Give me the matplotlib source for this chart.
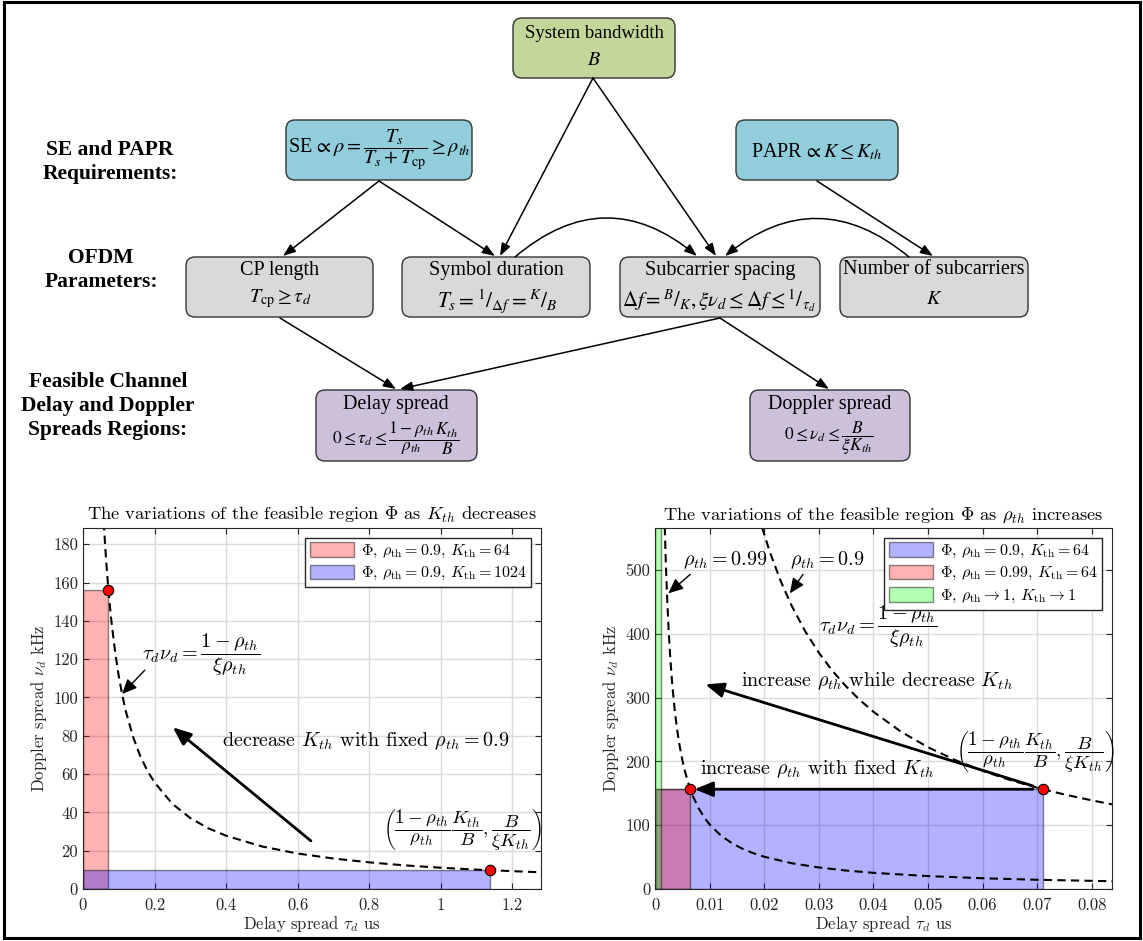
import matplotlib
matplotlib.use('Agg')
import matplotlib.pyplot as plt
from matplotlib.patches import FancyBboxPatch, Rectangle, FancyArrowPatch
from matplotlib.ticker import FuncFormatter

plt.rcParams['font.family'] = 'cmr10'
plt.rcParams['mathtext.fontset'] = 'cm'
plt.rcParams['axes.formatter.use_mathtext'] = True
plt.rcParams['axes.unicode_minus'] = False

# ---------------- data ----------------
# left panel: rho_th = 0.9, K_th = 64 and 1024
tau_k64, nu_k64 = 0.0711, 156.25
tau_k1024, nu_k1024 = 1.1378, 9.77
curve_tau_l = [0.058, 0.062, 0.066, 0.07, 0.075, 0.08, 0.09, 0.1, 0.11, 0.12, 0.14,
               0.16, 0.18, 0.2, 0.25, 0.3, 0.35, 0.4, 0.5, 0.6, 0.7, 0.8, 0.9,
               1.0, 1.1, 1.2, 1.28]
curve_nu_l = [191.6, 179.2, 168.3, 158.7, 148.1, 138.9, 123.5, 111.1, 101.0, 92.6, 79.4,
              69.4, 61.7, 55.6, 44.4, 37.0, 31.7, 27.8, 22.2, 18.5, 15.9, 13.9, 12.3,
              11.1, 10.1, 9.3, 8.7]

# right panel: K_th = 64 with rho_th = 0.9 / 0.99, and the limit case
tau_r09, nu_r09 = 0.0711, 156.25
tau_r099, nu_r099 = 0.00646, 156.25
tau_r1, nu_r1 = 0.0011, 10000
curve_tau_09 = [0.0196, 0.021, 0.023, 0.025, 0.0275, 0.03, 0.0325, 0.035, 0.0375, 0.04,
                0.045, 0.05, 0.055, 0.06, 0.065, 0.07, 0.075, 0.08, 0.0837]
curve_nu_09 = [566.8, 529.0, 483.0, 444.4, 404.0, 370.4, 341.9, 317.5, 296.3, 277.8,
               246.9, 222.2, 202.0, 185.2, 170.9, 158.7, 148.1, 138.9, 132.7]
curve_tau_099 = [0.00178, 0.0019, 0.002, 0.0022, 0.0025, 0.0028, 0.0032, 0.0036, 0.004,
                 0.0045, 0.005, 0.0055, 0.006, 0.0065, 0.007, 0.008, 0.009, 0.01, 0.012,
                 0.014, 0.016, 0.018, 0.02, 0.025, 0.03, 0.035, 0.04, 0.05, 0.06, 0.07, 0.0837]
curve_nu_099 = [567.5, 531.6, 505.0, 459.0, 404.0, 360.8, 315.7, 280.6, 252.5,
                224.5, 202.0, 183.7, 168.4, 155.4, 144.3, 126.3, 112.2, 101.0, 84.2,
                72.2, 63.1, 56.1, 50.5, 40.4, 33.7, 28.9, 25.3, 20.2, 16.8, 14.4, 12.1]

xticks_l = [0, 0.2, 0.4, 0.6, 0.8, 1, 1.2]
yticks_l = [0, 20, 40, 60, 80, 100, 120, 140, 160, 180]
xticks_r = [0, 0.01, 0.02, 0.03, 0.04, 0.05, 0.06, 0.07, 0.08]
yticks_r = [0, 100, 200, 300, 400, 500]

RED = (1, 0, 0, 0.3)
BLUE = (0, 0, 1, 0.3)
GREEN = (0, 1, 0, 0.3)
EDGE = (0, 0, 0, 0.45)

fig = plt.figure(figsize=(11.43, 9.41), dpi=100)

# ---------------- flow chart (pixel coordinates) ----------------
bg = fig.add_axes([0, 0, 1, 1])
bg.set_xlim(0, 1143)
bg.set_ylim(941, 0)
bg.set_axis_off()
bg.add_patch(Rectangle((4, 2), 1136, 936, fill=False, lw=2.2, ec='black'))

FC = dict(family='Liberation Serif', math_fontfamily='stix', ha='center', va='center')

boxes = [
    (513, 18, 162, 60, '#c4d79b'),   # system bandwidth
    (286, 120, 186, 60, '#92cddc'),  # SE
    (736, 120, 162, 60, '#92cddc'),  # PAPR
    (186, 257, 187, 60, '#d9d9d9'),  # CP length
    (402, 257, 188, 60, '#d9d9d9'),  # symbol duration
    (620, 257, 200, 60, '#d9d9d9'),  # subcarrier spacing
    (840, 257, 188, 60, '#d9d9d9'),  # number of subcarriers
    (316, 390, 161, 71, '#ccc0da'),  # delay spread
    (750, 390, 160, 71, '#ccc0da'),  # doppler spread
]
for x, y, w, h, c in boxes:
    bg.add_patch(FancyBboxPatch((x, y), w, h, boxstyle='round,pad=0,rounding_size=9',
                                fc=c, ec='#333333', lw=1, zorder=2))

fs = 14.5
bg.text(594, 33, 'System bandwidth', fontsize=13.5, **FC)
bg.text(594, 60, r'$B$', fontsize=fs, **FC)
bg.text(379, 150, r'SE$\,\propto\rho=\dfrac{T_s}{T_s+T_{\rm cp}}\geq\rho_{th}$', fontsize=fs, **FC)
bg.text(817, 152, r'PAPR$\,\propto K\leq K_{th}$', fontsize=fs, **FC)
bg.text(280, 270, 'CP length', fontsize=fs, **FC)
bg.text(280, 299, r'$T_{\rm cp}\geq\tau_d$', fontsize=fs, **FC)
bg.text(496, 270, 'Symbol duration', fontsize=fs, **FC)
bg.text(497, 301, r'$T_s={}^{1}/_{\Delta f}={}^{K}/_{B}$', fontsize=15.5, **FC)
bg.text(720, 270, 'Subcarrier spacing', fontsize=fs, **FC)
bg.text(719, 301, r'$\Delta f={}^{B}/_{K},\xi\nu_d\leq\Delta f\leq{}^{1}/_{\tau_d}$',
        fontsize=15, **FC)
bg.text(934, 270, 'Number of subcarriers', fontsize=fs, **FC)
bg.text(934, 299, r'$K$', fontsize=fs, **FC)
bg.text(396, 405, 'Delay spread', fontsize=fs, **FC)
bg.text(396, 438, r'$0\leq\tau_d\leq\dfrac{1-\rho_{th}}{\rho_{th}}\dfrac{K_{th}}{B}$', fontsize=12.5, **FC)
bg.text(830, 405, 'Doppler spread', fontsize=fs, **FC)
bg.text(829, 438, r'$0\leq\nu_d\leq\dfrac{B}{\xi K_{th}}$', fontsize=12.5, **FC)

LB = dict(family='Liberation Serif', weight='bold', ha='center', va='center',
          fontsize=15.5, linespacing=1.25)
bg.text(110, 162, 'SE and PAPR\nRequirements:', **LB)
bg.text(101, 270, 'OFDM\nParameters:', **LB)
bg.text(108, 406, 'Feasible Channel\nDelay and Doppler\nSpreads Regions:', **LB)


def flow_arrow(p0, p1, rad=0.0):
    bg.add_patch(FancyArrowPatch(p0, p1, arrowstyle='-|>,head_length=0.75,head_width=0.28',
                                 mutation_scale=10, connectionstyle=f'arc3,rad={rad}',
                                 lw=1.1, color='black', shrinkA=0, shrinkB=0, zorder=3))


flow_arrow((593, 78), (500, 256))
flow_arrow((593, 78), (716, 256))
flow_arrow((379, 181), (283, 256))
flow_arrow((379, 181), (495, 256))
flow_arrow((817, 181), (933, 256))
flow_arrow((515, 257), (697, 256), rad=-0.42)
flow_arrow((909, 257), (725, 256), rad=0.41)
flow_arrow((280, 318), (396, 389))
flow_arrow((720, 318), (400, 389))
flow_arrow((720, 318), (829, 389))


# ---------------- plots ----------------
def style_axes(ax, xt, yt, xlim, ylim):
    ax.set_xlim(*xlim)
    ax.set_ylim(*ylim)
    ax.set_xticks(xt)
    ax.set_yticks(yt)
    fmt = FuncFormatter(lambda v, p: f'{v:g}')
    ax.xaxis.set_major_formatter(fmt)
    ax.yaxis.set_major_formatter(fmt)
    ax.set_axisbelow(True)
    ax.grid(True, color='0.86', lw=1)
    ax.tick_params(direction='in', top=True, right=True, length=4, width=0.8,
                   labelsize=12, colors='0.15')
    ax.tick_params(axis='x', pad=6)
    for s in ax.spines.values():
        s.set_color('0.15')
        s.set_linewidth(0.8)
    ax.set_xlabel(r'Delay spread $\tau_d$ us', fontsize=12, color='0.15', labelpad=1)
    ax.set_ylabel(r'Doppler spread $\nu_d$ kHz', fontsize=12, color='0.15', labelpad=3)


def big_arrow(ax, xy, xytext, lw=2.0, hl=1.1, hw=0.45):
    ax.annotate('', xy=xy, xytext=xytext,
                arrowprops=dict(arrowstyle=f'-|>,head_length={hl},head_width={hw}',
                                lw=lw, color='black', mutation_scale=10,
                                shrinkA=0, shrinkB=0))


LEG = dict(loc='upper right', fontsize=11.5, fancybox=False, edgecolor='0.15',
           framealpha=1, handlelength=2.8, handleheight=1.0, borderaxespad=0.6,
           borderpad=0.3, labelspacing=0.3, handletextpad=0.4)
ANN = 14.5
coord_txt = r'$\left(\dfrac{1-\rho_{th}}{\rho_{th}}\dfrac{K_{th}}{B},\dfrac{B}{\xi K_{th}}\right)$'
curve_txt = r'$\tau_d\nu_d=\dfrac{1-\rho_{th}}{\xi\rho_{th}}$'

# left
axL = fig.add_axes([0.0726, 0.0553, 0.4007, 0.3836])
style_axes(axL, xticks_l, yticks_l, (0, 1.28), (0, 188.5))
axL.add_patch(Rectangle((0, 0), tau_k64, nu_k64, fc=RED, ec=EDGE, lw=1,
                        label=r'$\mathbf{\Phi}$, $\rho_{\rm th}=0.9$, $K_{\rm th}=64$'))
axL.add_patch(Rectangle((0, 0), tau_k1024, nu_k1024, fc=BLUE, ec=EDGE, lw=1,
                        label=r'$\mathbf{\Phi}$, $\rho_{\rm th}=0.9$, $K_{\rm th}=1024$'))
axL.plot(curve_tau_l, curve_nu_l, color='black', ls='--', lw=1.5, dashes=(4, 2.5))
axL.plot([tau_k64, tau_k1024], [nu_k64, nu_k1024], 'o', ms=7.5, mfc='red', mec='black',
         mew=0.8, zorder=5, clip_on=False)
axL.set_title(r'The variations of the feasible region $\mathbf{\Phi}$ as $K_{th}$ decreases',
              fontsize=13.3, pad=6)
axL.legend(**LEG)
axL.text(0.33, 122, curve_txt, fontsize=ANN, ha='center', va='center')
big_arrow(axL, (0.109, 101.8), (0.173, 114.3), lw=1, hl=0.9, hw=0.4)
big_arrow(axL, (0.251, 84.4), (0.637, 25.1))
axL.text(0.388, 77, r'decrease $K_{th}$ with fixed $\rho_{th}=0.9$', fontsize=ANN,
         ha='left', va='center')
axL.text(1.06, 31, coord_txt, fontsize=13.5, ha='center', va='center')

# right
axR = fig.add_axes([0.5731, 0.0553, 0.3998, 0.3836])
style_axes(axR, xticks_r, yticks_r, (0, 0.0837), (0, 566))
axR.add_patch(Rectangle((0, 0), tau_r09, nu_r09, fc=BLUE, ec=EDGE, lw=1,
                        label=r'$\mathbf{\Phi}$, $\rho_{\rm th}=0.9$, $K_{\rm th}=64$'))
axR.add_patch(Rectangle((0, 0), tau_r099, nu_r099, fc=RED, ec=EDGE, lw=1,
                        label=r'$\mathbf{\Phi}$, $\rho_{\rm th}=0.99$, $K_{\rm th}=64$'))
axR.add_patch(Rectangle((0, 0), tau_r1, nu_r1, fc=GREEN, ec=EDGE, lw=1,
                        label=r'$\mathbf{\Phi}$, $\rho_{\rm th}\rightarrow1$, $K_{\rm th}\rightarrow1$'))
axR.plot(curve_tau_09, curve_nu_09, color='black', ls='--', lw=1.5, dashes=(4, 2.5))
axR.plot(curve_tau_099, curve_nu_099, color='black', ls='--', lw=1.5, dashes=(4, 2.5))
axR.plot([tau_r099, tau_r09], [nu_r099, nu_r09], 'o', ms=7.5, mfc='red', mec='black',
         mew=0.8, zorder=5, clip_on=False)
axR.set_title(r'The variations of the feasible region $\mathbf{\Phi}$ as $\rho_{th}$ increases',
              fontsize=13.3, pad=6)
axR.legend(**LEG)
axR.text(0.0051, 516, r'$\rho_{th}=0.99$', fontsize=ANN, ha='left', va='center')
axR.text(0.0247, 516, r'$\rho_{th}=0.9$', fontsize=ANN, ha='left', va='center')
big_arrow(axR, (0.00244, 463.5), (0.00645, 493.3), lw=1, hl=0.9, hw=0.4)
big_arrow(axR, (0.0247, 463.5), (0.0271, 493.3), lw=1, hl=0.9, hw=0.4)
axR.text(0.0408, 411, curve_txt, fontsize=ANN, ha='center', va='center')
axR.text(0.0158, 326, r'increase $\rho_{th}$ while decrease $K_{th}$', fontsize=ANN,
         ha='left', va='center')
big_arrow(axR, (0.00922, 320.7), (0.0692, 161.6))
axR.text(0.0696, 215, coord_txt, fontsize=13.5, ha='center', va='center')
axR.text(0.00823, 188, r'increase $\rho_{th}$ with fixed $K_{th}$', fontsize=ANN,
         ha='left', va='center')
big_arrow(axR, (0.00724, 156.4), (0.0692, 156.4))

fig.savefig('out.png', dpi=100)
